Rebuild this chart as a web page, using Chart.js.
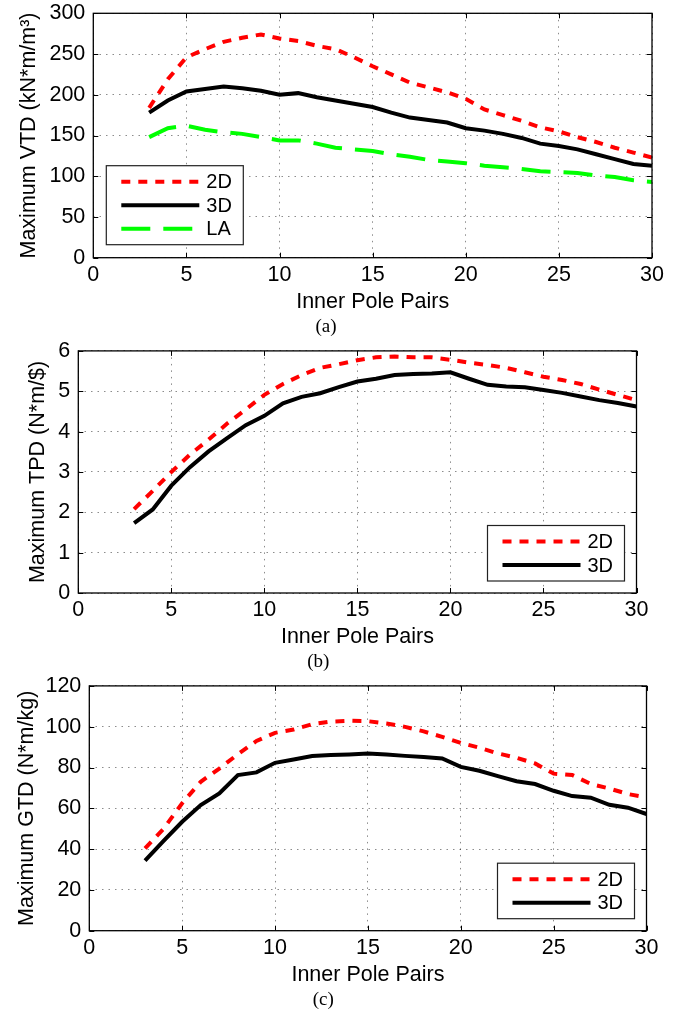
<!DOCTYPE html>
<html>
<head>
<meta charset="utf-8">
<script src="https://cdn.jsdelivr.net/npm/chart.js@4.4.1/dist/chart.umd.min.js"></script>
<style>
  html, body { margin: 0; padding: 0; background: #fff; }
  body { width: 680px; height: 1013px; position: relative; overflow: hidden; }
  canvas { position: absolute; left: 0; }
</style>
</head>
<body>
<canvas id="vtdChart"></canvas>
<canvas id="tpdChart"></canvas>
<canvas id="gtdChart"></canvas>
<script>
// --- Values ---
const pairs = [3, 4, 5, 6, 7, 8, 9, 10, 11, 12, 13, 14, 15, 16, 17, 18, 19, 20, 21, 22, 23, 24, 25, 26, 27, 28, 29, 30];
const xTicks = [0, 5, 10, 15, 20, 25, 30];

// (a) volumetric torque density, kN*m/m^3
const vtd2D = [184, 219, 246, 256, 265, 270, 274, 269, 266, 260, 256, 246, 235, 225, 215, 209, 203, 195, 182, 175, 168, 160, 155, 148, 142, 135, 129, 123];
const vtd3D = [178, 193, 204, 207, 210, 208, 205, 200, 202, 197, 193, 189, 185, 178, 172, 169, 166, 159, 156, 152, 147, 140, 137, 133, 127, 121, 115, 113];
const vtdLA = [148, 159, 162, 157, 154, 152, 148, 144, 144, 140, 135, 133, 131, 127, 124, 120, 118, 116, 113, 111, 109, 106, 105, 104, 101, 99, 95, 93];
const vtdTicks = [0, 50, 100, 150, 200, 250, 300];

// (b) torque per dollar, N*m/$
const tpd2D = [2.08, 2.53, 3.0, 3.43, 3.8, 4.2, 4.55, 4.91, 5.18, 5.4, 5.58, 5.67, 5.77, 5.84, 5.86, 5.84, 5.84, 5.78, 5.71, 5.65, 5.58, 5.47, 5.36, 5.28, 5.18, 5.04, 4.91, 4.78];
const tpd3D = [1.73, 2.07, 2.66, 3.12, 3.51, 3.84, 4.16, 4.39, 4.7, 4.86, 4.95, 5.1, 5.24, 5.31, 5.4, 5.43, 5.44, 5.47, 5.31, 5.16, 5.12, 5.1, 5.03, 4.96, 4.87, 4.78, 4.71, 4.62];
const tpdTicks = [0, 1, 2, 3, 4, 5, 6];

// (c) gravimetric torque density, N*m/kg
const gtd2D = [40.3, 50, 62.5, 73, 79.5, 86.5, 93, 97, 98.6, 101.2, 102.5, 102.9, 102.7, 101.6, 99.9, 97.7, 95, 92.1, 89.7, 86.9, 84.8, 82, 77, 76.3, 71.9, 69.7, 67, 65.3];
const gtd3D = [34.3, 44, 53.4, 61.6, 67.3, 76.3, 77.6, 82.3, 83.9, 85.6, 86.1, 86.4, 86.9, 86.4, 85.7, 85.1, 84.4, 80.3, 78.4, 75.8, 73.3, 71.9, 68.6, 66, 65.2, 61.7, 60.3, 57.2];
const gtdTicks = [0, 20, 40, 60, 80, 100, 120];

// --- Styling ---
const SANS = "'Liberation Sans', Arial, Helvetica, sans-serif";
const SERIF = "'Liberation Serif', 'Times New Roman', serif";
Chart.defaults.font.family = SANS;
Chart.defaults.font.size = 21.5;
Chart.defaults.color = '#000';

const lineStyles = {
    '2D': { borderColor: '#ff0000', borderDash: [9, 8] },
    '3D': { borderColor: '#000000', borderDash: [] },
    'LA': { borderColor: '#00ff00', borderDash: [29, 13] }
};

function series(label, values) {
    return {
        label: label,
        data: values.map((v, i) => ({ x: pairs[i], y: v })),
        borderWidth: 4,
        borderCapStyle: 'butt',
        pointRadius: 0,
        tension: 0,
        fill: false,
        ...lineStyles[label]
    };
}

// box with inward tick marks on all four sides, like the original figure
const matlabFrame = {
    id: 'matlabFrame',
    afterDatasetsDraw(chart) {
        const { ctx, chartArea: a, scales: { x, y } } = chart;
        const tl = 5;
        ctx.save();
        ctx.strokeStyle = '#000';
        ctx.lineWidth = 1;
        ctx.setLineDash([]);
        ctx.beginPath();
        x.ticks.forEach(t => {
            const px = Math.round(x.getPixelForValue(t.value)) + 0.5;
            ctx.moveTo(px, a.bottom); ctx.lineTo(px, a.bottom - tl);
            ctx.moveTo(px, a.top); ctx.lineTo(px, a.top + tl);
        });
        y.ticks.forEach(t => {
            const py = Math.round(y.getPixelForValue(t.value)) + 0.5;
            ctx.moveTo(a.left, py); ctx.lineTo(a.left + tl, py);
            ctx.moveTo(a.right, py); ctx.lineTo(a.right - tl, py);
        });
        ctx.stroke();
        ctx.lineWidth = 1.3;
        ctx.strokeRect(a.left, a.top, a.right - a.left, a.bottom - a.top);
        ctx.restore();
    }
};

// legend drawn as a boxed inset in one corner of the plot
const boxLegend = {
    id: 'boxLegend',
    afterDraw(chart, args, opts) {
        const { ctx, chartArea: a } = chart;
        const sets = chart.data.datasets;
        const rowH = 23.5;
        const w = 137;
        const h = sets.length * rowH + 8.5;
        const bx = opts.corner === 'left' ? a.left + opts.inset : a.right - opts.inset - w;
        const by = a.bottom - opts.inset - h;
        ctx.save();
        ctx.fillStyle = '#fff';
        ctx.fillRect(bx, by, w, h);
        ctx.strokeStyle = '#222';
        ctx.lineWidth = 1.2;
        ctx.strokeRect(bx, by, w, h);
        sets.forEach((ds, i) => {
            const ry = by + 16 + i * rowH;
            ctx.beginPath();
            ctx.strokeStyle = ds.borderColor;
            ctx.lineWidth = ds.borderWidth;
            ctx.lineCap = 'butt';
            ctx.setLineDash(ds.borderDash);
            ctx.moveTo(bx + 15, ry);
            ctx.lineTo(bx + 93, ry);
            ctx.stroke();
            ctx.setLineDash([]);
            ctx.fillStyle = '#000';
            ctx.font = '20px ' + SANS;
            ctx.textAlign = 'left';
            ctx.textBaseline = 'middle';
            ctx.fillText(ds.label, bx + 100, ry + 1);
        });
        ctx.restore();
    }
};

const BELOW_PLOT = 79; // x-axis box (57) + caption box (22)

function makePanel(id, p) {
    const canvas = document.getElementById(id);
    canvas.width = 680;
    canvas.height = p.height;
    canvas.style.top = p.top + 'px';

    const gridColor = 'rgba(0,0,0,0.45)';
    return new Chart(canvas, {
        type: 'line',
        data: { datasets: p.datasets },
        options: {
            responsive: false,
            animation: false,
            events: [],
            layout: {
                padding: {
                    left: 0,
                    right: 680 - p.plotRight,
                    top: p.plotTop - p.top,
                    bottom: p.height - BELOW_PLOT - (p.plotBottom - p.top)
                }
            },
            scales: {
                x: {
                    type: 'linear',
                    min: xTicks[0],
                    max: xTicks[xTicks.length - 1],
                    afterBuildTicks: s => { s.ticks = xTicks.map(v => ({ value: v })); },
                    afterFit: s => { s.height = 57; },
                    grid: { color: gridColor, lineWidth: 1, drawTicks: false },
                    border: { display: false, dash: [1.5, 5] },
                    ticks: { padding: 4, maxRotation: 0, autoSkip: false },
                    title: { display: true, text: 'Inner Pole Pairs', padding: { top: 0, bottom: 0 } }
                },
                y: {
                    type: 'linear',
                    min: p.yTicks[0],
                    max: p.yTicks[p.yTicks.length - 1],
                    afterBuildTicks: s => { s.ticks = p.yTicks.map(v => ({ value: v })); },
                    afterFit: s => { s.width = p.plotLeft; },
                    grid: { color: gridColor, lineWidth: 1, drawTicks: false },
                    border: { display: false, dash: [1.5, 5] },
                    ticks: { padding: 8, autoSkip: false },
                    title: { display: true, text: p.yTitle, padding: { top: p.yTitlePad, bottom: 0 } }
                }
            },
            plugins: {
                legend: { display: false },
                tooltip: { enabled: false },
                title: {
                    display: true,
                    position: 'bottom',
                    text: p.caption,
                    color: '#000',
                    font: { family: SERIF, size: 19, weight: 'normal', lineHeight: 1 },
                    padding: { top: 3, bottom: 0 }
                },
                boxLegend: p.legend
            }
        },
        plugins: [matlabFrame, boxLegend]
    });
}

makePanel('vtdChart', {
    top: -10, height: 350,
    plotLeft: 93.3, plotRight: 652, plotTop: 13.3, plotBottom: 257.7,
    yTicks: vtdTicks,
    yTitle: 'Maximum VTD (kN*m/m\u00B3)', yTitlePad: 16,
    caption: '(a)',
    legend: { corner: 'left', inset: 13 },
    datasets: [series('2D', vtd2D), series('3D', vtd3D), series('LA', vtdLA)]
});

makePanel('tpdChart', {
    top: 330, height: 345,
    plotLeft: 78.3, plotRight: 636.5, plotTop: 349.3, plotBottom: 593,
    yTicks: tpdTicks,
    yTitle: 'Maximum TPD (N*m/$)', yTitlePad: 25,
    caption: '(b)',
    legend: { corner: 'right', inset: 12 },
    datasets: [series('2D', tpd2D), series('3D', tpd3D)]
});

makePanel('gtdChart', {
    top: 665, height: 348,
    plotLeft: 89.3, plotRight: 646.5, plotTop: 685, plotBottom: 930.7,
    yTicks: gtdTicks,
    yTitle: 'Maximum GTD (N*m/kg)', yTitlePad: 14.5,
    caption: '(c)',
    legend: { corner: 'right', inset: 12 },
    datasets: [series('2D', gtd2D), series('3D', gtd3D)]
});
</script>
</body>
</html>
